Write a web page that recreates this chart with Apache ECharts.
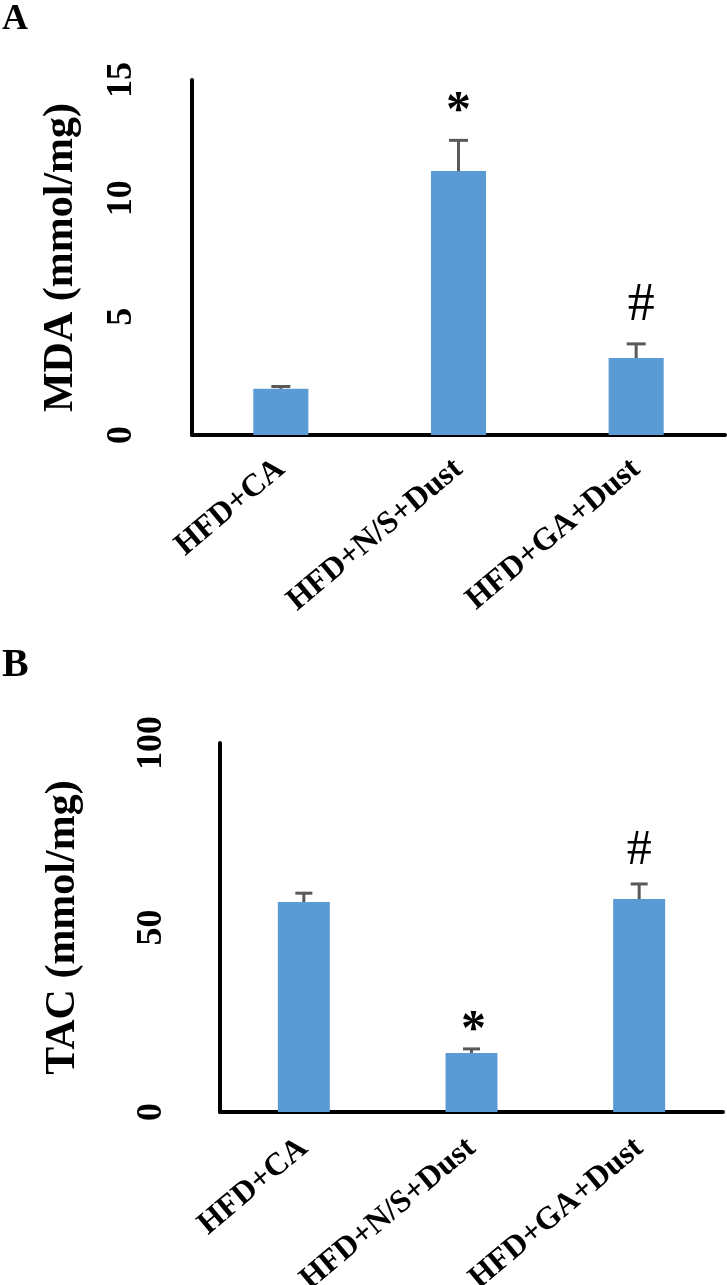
<!DOCTYPE html>
<html>
<head>
<meta charset="utf-8">
<script src="https://cdn.jsdelivr.net/npm/echarts@6/dist/echarts.min.js"></script>
<style>
html,body{margin:0;padding:0;background:#fff;}
#chart{width:727px;height:1285px;}
</style>
</head>
<body>
<div id="chart"></div>
<script>
const categories = ['HFD+CA', 'HFD+N/S+Dust', 'HFD+GA+Dust'];
const mdaValues = [1.95, 11.15, 3.25];
const mdaErrors = [0.1, 1.3, 0.6];
const mdaMarks = ['', '*', '#'];
const tacValues = [56.9, 16.0, 57.7];
const tacErrors = [2.4, 1.1, 4.1];
const tacMarks = ['', '*', '#'];
const mdaTicks = {min: 0, max: 15, interval: 5};
const tacTicks = {min: 0, max: 100, interval: 50};

const SERIF = '"Liberation Serif", "Times New Roman", serif';
const BAR = '#5B9BD5';
const ERR = '#595959';

function errData(vals, errs) {
  return vals.map((v, i) => [i, v, errs[i]]);
}
function makeErrRender(marks, capHalf, markOffsets) {
  return function (params, api) {
    const i = api.value(0), v = api.value(1), e = api.value(2);
    const p0 = api.coord([i, v]);
    const p1 = api.coord([i, v + e]);
    const children = [
      {type: 'line', shape: {x1: p0[0], y1: p0[1], x2: p1[0], y2: p1[1]}, style: {stroke: ERR, lineWidth: 3}},
      {type: 'line', shape: {x1: p1[0] - capHalf, y1: p1[1], x2: p1[0] + capHalf, y2: p1[1]}, style: {stroke: ERR, lineWidth: 3}}
    ];
    const m = marks[params.dataIndex];
    if (m) {
      const o = markOffsets[m];
      children.push({type: 'text', style: {text: m, x: p1[0] + o.dx, y: p1[1] - o.dy, align: 'center', verticalAlign: 'middle',
        font: o.font, fill: '#000'}});
    }
    return {type: 'group', children: children};
  };
}

const yAxisCommon = {
  type: 'value',
  axisLine: {show: true, lineStyle: {color: '#000', width: 4}},
  axisTick: {show: false},
  splitLine: {show: false},
  nameLocation: 'middle',
  nameRotate: 90,
  nameTextStyle: {fontFamily: SERIF, fontWeight: 'bold', fontSize: 42, color: '#000'},
  axisLabel: {rotate: 90, fontFamily: SERIF, fontWeight: 'bold', fontSize: 36, color: '#000'}
};
const xAxisCommon = {
  type: 'category',
  data: categories,
  axisLine: {show: true, lineStyle: {color: '#000', width: 4}},
  axisTick: {show: false},
  axisLabel: {rotate: 40, margin: 30, interval: 0, fontFamily: SERIF, fontWeight: 'bold', fontSize: 32, color: '#000'}
};

const chart = echarts.init(document.getElementById('chart'), null, {renderer: 'canvas'});
chart.setOption({
  backgroundColor: '#fff',
  animation: false,
  graphic: [
    {type: 'text', left: 2, top: 2, style: {text: 'A', font: 'bold 36px ' + SERIF, fill: '#000'}},
    {type: 'text', left: 2, top: 646, style: {text: 'B', font: 'bold 40px ' + SERIF, fill: '#000'}}
  ],
  grid: [
    {left: 192, top: 80, width: 533, height: 355, containLabel: false, outerBoundsMode: 'none'},
    {left: 220, top: 743, width: 503, height: 369, containLabel: false, outerBoundsMode: 'none'}
  ],
  xAxis: [
    Object.assign({gridIndex: 0}, xAxisCommon),
    Object.assign({gridIndex: 1}, xAxisCommon, {axisLabel: Object.assign({}, xAxisCommon.axisLabel, {margin: 32})})
  ],
  yAxis: [
    Object.assign({}, yAxisCommon, {gridIndex: 0, min: mdaTicks.min, max: mdaTicks.max, interval: mdaTicks.interval,
      name: 'MDA (mmol/mg)', nameGap: 110, axisLabel: Object.assign({}, yAxisCommon.axisLabel, {margin: 52})}),
    Object.assign({}, yAxisCommon, {gridIndex: 1, min: tacTicks.min, max: tacTicks.max, interval: tacTicks.interval,
      name: 'TAC (mmol/mg)', nameGap: 136, axisLabel: Object.assign({}, yAxisCommon.axisLabel, {margin: 50})})
  ],
  series: [
    {type: 'bar', xAxisIndex: 0, yAxisIndex: 0, data: mdaValues, barWidth: '31%', itemStyle: {color: BAR}},
    {type: 'custom', xAxisIndex: 0, yAxisIndex: 0, data: errData(mdaValues, mdaErrors), z: 5,
      renderItem: makeErrRender(mdaMarks, 9.5, {
        '*': {dx: 0, dy: 28, font: 'bold 50px ' + SERIF},
        '#': {dx: 5, dy: 38, font: '54px ' + SERIF}
      })},
    {type: 'bar', xAxisIndex: 1, yAxisIndex: 1, data: tacValues, barWidth: '31%', itemStyle: {color: BAR}},
    {type: 'custom', xAxisIndex: 1, yAxisIndex: 1, data: errData(tacValues, tacErrors), z: 5,
      renderItem: makeErrRender(tacMarks, 8.5, {
        '*': {dx: 2, dy: 18, font: 'bold 50px ' + SERIF},
        '#': {dx: 0, dy: 33, font: '50px ' + SERIF}
      })}
  ]
});
</script>
</body>
</html>
